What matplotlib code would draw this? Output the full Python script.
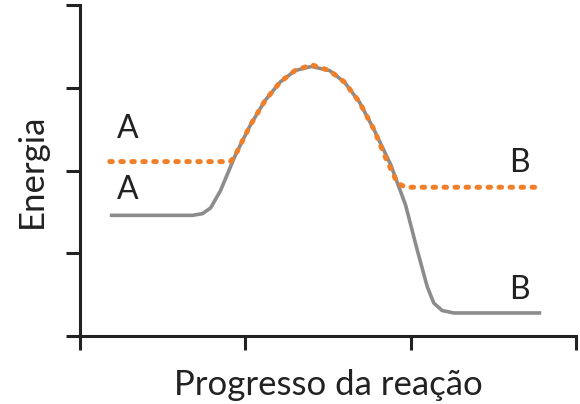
import matplotlib
matplotlib.use('Agg')
import matplotlib.pyplot as plt

# curve with lower energy (gray)
gray_x = [0.18, 0.68, 0.74, 0.79, 0.85, 0.94, 1.03, 1.12, 1.21, 1.30, 1.40, 1.51, 1.60,
          1.69, 1.78, 1.88, 1.97, 2.04, 2.10, 2.14, 2.19, 2.26, 2.79]
gray_y = [1.46, 1.46, 1.48, 1.55, 1.76, 2.19, 2.55, 2.85, 3.07, 3.21, 3.26, 3.21, 3.07,
          2.83, 2.49, 2.07, 1.58, 1.04, 0.60, 0.40, 0.31, 0.28, 0.28]

# curve with higher energy (orange dotted)
orange_x = [0.18, 0.91, 0.94, 1.03, 1.12, 1.21, 1.30, 1.40, 1.51, 1.60, 1.69, 1.78,
            1.85, 1.92, 1.97, 2.79]
orange_y = [2.11, 2.11, 2.19, 2.55, 2.85, 3.07, 3.21, 3.28, 3.21, 3.07, 2.83, 2.49,
            2.15, 1.85, 1.80, 1.80]

labels = [("A", 0.29, 2.50), ("A", 0.29, 1.77), ("B", 2.66, 2.09), ("B", 2.66, 0.56)]

plt.rcParams['font.family'] = ['Lato', 'DejaVu Sans']

fig = plt.figure(figsize=(5.8, 4.04), dpi=100)
ax = fig.add_axes([0.138, 0.168, 0.855, 0.819])

ax.plot(gray_x, gray_y, color='#8c8c8c', lw=2.6, solid_capstyle='butt')
ax.plot(orange_x, orange_y, color='#f07f2a', lw=3.6, linestyle=(0, (0.5, 1.7)),
        dash_capstyle='round')

for txt, x, y in labels:
    ax.text(x, y, txt, fontsize=23, ha='center', va='center', color='#222222')

ax.set_xlim(0, 3)
ax.set_ylim(0, 4)
ax.set_xticks([0, 1, 2, 3])
ax.set_yticks([0, 1, 2, 3, 4])
ax.set_xticklabels([])
ax.set_yticklabels([])
ax.tick_params(length=10, width=2.2, color='#222222')
for s in ['top', 'right']:
    ax.spines[s].set_visible(False)
for s in ['left', 'bottom']:
    ax.spines[s].set_linewidth(2.2)
    ax.spines[s].set_color('#222222')

ax.set_xlabel('Progresso da reação', fontsize=25, labelpad=10, color='#222222')
ax.set_ylabel('Energia', fontsize=25, labelpad=10, color='#222222')

fig.savefig('out.png', dpi=100)
